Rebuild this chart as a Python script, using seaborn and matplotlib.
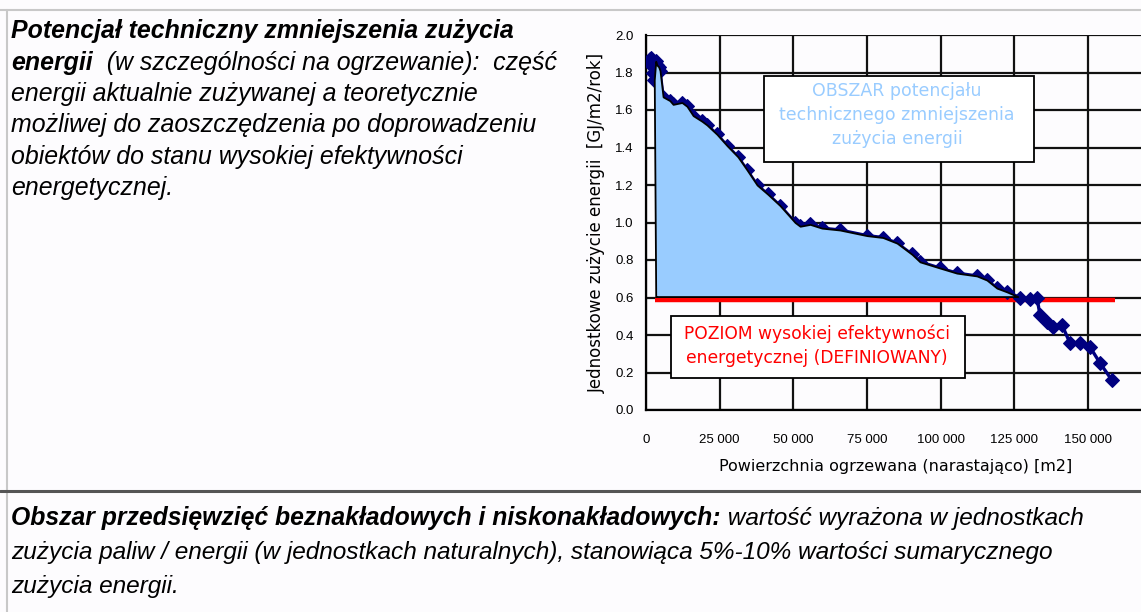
import matplotlib
matplotlib.use("Agg")
import matplotlib.pyplot as plt
import matplotlib.ticker as mticker
from matplotlib.patches import Rectangle
from matplotlib.lines import Line2D
import seaborn as sns
import numpy as np
import pandas as pd

# heated area (cumulative) [m2] vs unit energy use [GJ/m2/year]
area_m2 = [1000, 1400, 1800, 2400, 2800, 3300, 3700, 4300, 4750, 5800, 8100, 9200, 12200,
           13900, 16000, 19000, 20700, 24100, 27500, 31200, 34300, 37700, 41400, 45500,
           50600, 52300, 55700, 59700, 65800, 75000, 80400, 85200, 90300, 93000, 99800,
           105500, 112300, 115700, 119100, 122500, 126900, 130300, 132700, 133700, 136000,
           138100, 141200, 143900, 147300, 150700, 154100, 158100]
energy_gj = [1.85, 1.87, 1.88, 1.80, 1.76, 1.86, 1.84, 1.83, 1.81, 1.67, 1.65, 1.63, 1.64,
             1.62, 1.57, 1.54, 1.52, 1.47, 1.41, 1.35, 1.28, 1.20, 1.15, 1.09,
             1.00, 0.98, 0.99, 0.97, 0.96, 0.93, 0.92, 0.89, 0.83, 0.79, 0.757,
             0.73, 0.715, 0.693, 0.65, 0.63, 0.60, 0.59, 0.60, 0.507, 0.47,
             0.443, 0.453, 0.357, 0.357, 0.336, 0.25, 0.16]

level_value = 0.587          # "POZIOM wysokiej efektywności" line
level_span = [3050, 159200]
fill_base = 0.605
fill_start = 3300

x_ticks = [0, 25000, 50000, 75000, 100000, 125000, 150000]
y_ticks = [0.0, 0.2, 0.4, 0.6, 0.8, 1.0, 1.2, 1.4, 1.6, 1.8, 2.0]

sns.set_style("white")
plt.rcParams['font.family'] = ['Liberation Sans', 'DejaVu Sans']
plt.rcParams['text.color'] = 'black'
plt.rcParams['xtick.color'] = 'black'
plt.rcParams['ytick.color'] = 'black'

W, H = 1141, 612
bg = '#fdfcfe'
fig = plt.figure(figsize=(W / 100, H / 100), dpi=100, facecolor=bg)


def fx(px):
    return px / W


def fy(py):
    return 1 - py / H


ax = fig.add_axes([fx(646), fy(410), fx(1141) - fx(646), fy(35) - fy(410)])
ax.set_facecolor(bg)

df = pd.DataFrame({'area': area_m2, 'energy': energy_gj})
x = df['area'].to_numpy()
y = df['energy'].to_numpy()

ax.plot(level_span, [level_value, level_value], color='#ff0000', lw=3.2,
        solid_capstyle='butt', zorder=2.5)
sns.lineplot(data=df, x='area', y='energy', sort=False, estimator=None, ax=ax,
             color='#000080', lw=2.4, marker='D', markersize=7,
             markeredgecolor='#000080', zorder=3)
ax.fill_between(x, y, fill_base, where=(x >= fill_start) & (y >= fill_base),
                interpolate=True, facecolor='#99ccff', edgecolor='black',
                linewidth=1.3, zorder=4)

ax.set_xlim(0, 168000)
ax.set_ylim(0, 2.0)
ax.set_xticks(x_ticks)
ax.set_yticks(y_ticks)
ax.xaxis.set_major_formatter(mticker.FuncFormatter(lambda v, p: f"{int(v):,}".replace(',', ' ')))
ax.yaxis.set_major_formatter(mticker.FormatStrFormatter('%.1f'))
ax.grid(True, color='#111111', lw=1.6)
ax.set_axisbelow(True)
for s in ['top', 'right']:
    ax.spines[s].set_visible(False)
for s in ['left', 'bottom']:
    ax.spines[s].set_color('black')
    ax.spines[s].set_linewidth(1.6)
ax.tick_params(axis='y', direction='out', length=6, width=1.5, pad=3, labelsize=9.5)
ax.tick_params(axis='x', direction='out', length=6, width=1.5, pad=11, labelsize=9.5)
ax.set_xlabel('')
ax.set_ylabel('')

fig.text(fx(896), fy(467), 'Powierzchnia ogrzewana (narastająco) [m2]',
         family='DejaVu Sans', fontsize=11.5, ha='center', va='center')
fig.text(fx(597), fy(223), 'Jednostkowe zużycie energii  [GJ/m2/rok]',
         family='DejaVu Sans', fontsize=12, ha='center', va='center', rotation=90)

# annotation boxes
fig.add_artist(Rectangle((fx(764), fy(162)), fx(1034) - fx(764), fy(76) - fy(162),
                         transform=fig.transFigure, facecolor='white',
                         edgecolor='black', lw=1.3, zorder=5))
fig.text(fx(897), fy(115), 'OBSZAR potencjału\ntechnicznego zmniejszenia\nzużycia energii',
         family='DejaVu Sans', fontsize=12.5, color='#99ccff', ha='center', va='center',
         linespacing=1.45, zorder=6)
fig.add_artist(Rectangle((fx(671), fy(378)), fx(965) - fx(671), fy(316) - fy(378),
                         transform=fig.transFigure, facecolor='white',
                         edgecolor='black', lw=1.3, zorder=5))
fig.text(fx(817), fy(346), 'POZIOM wysokiej efektywności\nenergetycznej (DEFINIOWANY)',
         family='DejaVu Sans', fontsize=12.3, color='#ff0000', ha='center', va='center',
         linespacing=1.45, zorder=6)

# frame lines
fig.add_artist(Line2D([0, 1], [fy(10), fy(10)], transform=fig.transFigure, color='#c8c8c8', lw=1.5))
fig.add_artist(Line2D([fx(7), fx(7)], [fy(10), 0], transform=fig.transFigure, color='#c8c8c8', lw=1.5))
fig.add_artist(Line2D([0, 1], [fy(491), fy(491)], transform=fig.transFigure, color='#555555', lw=2.2))

# description texts
renderer = fig.canvas.get_renderer()


def two_part(px, py, bold, rest, bsize, rsize):
    t = fig.text(fx(px), fy(py), bold, fontsize=bsize, style='italic', weight='bold',
                 ha='left', va='center')
    bb = t.get_window_extent(renderer=renderer)
    fig.text(bb.x1 / W, fy(py), rest, fontsize=rsize, style='italic', ha='left', va='center')


top_size = 17.9
fig.text(fx(11), fy(31), 'Potencjał techniczny zmniejszenia zużycia', fontsize=top_size,
         style='italic', weight='bold', ha='left', va='center')
two_part(11, 63, 'energii', '  (w szczególności na ogrzewanie):  część', top_size, top_size)
top_lines = ['energii aktualnie zużywanej a teoretycznie',
             'możliwej do zaoszczędzenia po doprowadzeniu',
             'obiektów do stanu wysokiej efektywności',
             'energetycznej.']
for i, line in enumerate(top_lines):
    fig.text(fx(11), fy(94 + 31.5 * i), line, fontsize=top_size, style='italic',
             ha='left', va='center')

bot_size = 17.6
two_part(11, 518, 'Obszar przedsięwzięć beznakładowych i niskonakładowych:',
         ' wartość wyrażona w jednostkach', 17.8, bot_size)
fig.text(fx(11), fy(553), 'zużycia paliw / energii (w jednostkach naturalnych), stanowiąca 5%-10% wartości sumarycznego',
         fontsize=bot_size, style='italic', ha='left', va='center')
fig.text(fx(11), fy(587), 'zużycia energii.', fontsize=bot_size, style='italic',
         ha='left', va='center')

fig.savefig('out.png', dpi=100, facecolor=bg)
